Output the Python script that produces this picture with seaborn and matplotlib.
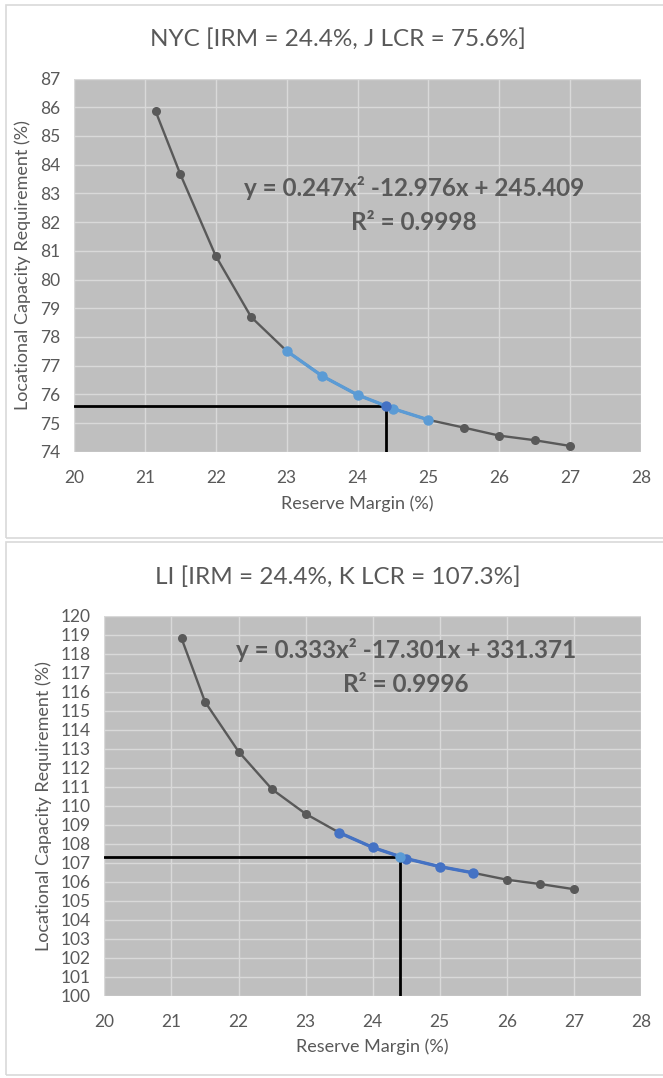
import numpy as np
import pandas as pd
import matplotlib
matplotlib.use("Agg")
import matplotlib.pyplot as plt
from matplotlib.patches import Rectangle
import seaborn as sns

# ---- data ----
nyc_x = [21.15, 21.5, 22, 22.5, 23, 23.5, 24, 24.5, 25, 25.5, 26, 26.5, 27]
nyc_y = [85.87, 83.67, 80.82, 78.69, 77.51, 76.64, 75.98, 75.50, 75.11, 74.84, 74.56, 74.40, 74.20]
nyc_fit_x = [23, 23.5, 24, 24.5, 25]
nyc_fit_y = [77.51, 76.64, 75.98, 75.50, 75.11]
nyc_irm, nyc_lcr = 24.4, 75.6

li_x = [21.15, 21.5, 22, 22.5, 23, 23.5, 24, 24.5, 25, 25.5, 26, 26.5, 27]
li_y = [118.82, 115.48, 112.86, 110.87, 109.58, 108.59, 107.81, 107.22, 106.80, 106.47, 106.11, 105.88, 105.61]
li_fit_x = [23.5, 24, 24.5, 25, 25.5]
li_fit_y = [108.59, 107.81, 107.22, 106.80, 106.47]
li_irm, li_lcr = 24.4, 107.3

sns.set_theme(style="white")
plt.rcParams["font.family"] = ["Lato", "DejaVu Sans"]

TXT = "#595959"
GRAY = "#595959"
LIGHTBLUE = "#5B9BD5"
DARKBLUE = "#4472C4"

W, H = 663, 1078
fig = plt.figure(figsize=(W / 100, H / 100), dpi=100)


def fx(px):
    return px / W


def fy(py):
    return 1 - py / H


# panel borders
for top, bot in [(5, 538), (542, 1075)]:
    fig.patches.append(Rectangle((fx(6), fy(bot)), fx(700), (bot - top) / H,
                                 transform=fig.transFigure, fill=False,
                                 edgecolor="#d9d9d9", linewidth=1.2))


def panel(rect, xs, ys, fx_, fy_, irm, lcr, ylim, line_col, pt_col,
          eq, r2, eq_pos, r2_pos):
    ax = fig.add_axes(rect)
    ax.set_facecolor("#bfbfbf")
    # guide lines to the IRM / LCR point
    ax.plot([20, irm], [lcr, lcr], color="black", lw=2.0, zorder=2)
    ax.plot([irm, irm], [ylim[0], lcr], color="black", lw=2.0, zorder=2)
    df = pd.DataFrame({"x": xs, "y": ys})
    sns.lineplot(data=df, x="x", y="y", ax=ax, color=GRAY, lw=1.7, marker="o",
                 markersize=6.5, markeredgewidth=0, estimator=None, sort=False, zorder=3)
    dfit = pd.DataFrame({"x": fx_, "y": fy_})
    sns.lineplot(data=dfit, x="x", y="y", ax=ax, color=line_col, lw=2.4, marker="o",
                 markersize=7.5, markeredgewidth=0, estimator=None, sort=False, zorder=4)
    ax.plot([irm], [lcr], marker="o", color=pt_col, markersize=7.5, markeredgewidth=0, zorder=5)

    ax.set_xlim(20, 28)
    ax.set_ylim(*ylim)
    ax.set_xticks(range(20, 29))
    ax.set_yticks(range(ylim[0], ylim[1] + 1))
    ax.grid(True, color="#d9d9d9", lw=1.0)
    ax.set_axisbelow(True)
    for s in ax.spines.values():
        s.set_visible(False)
    ax.tick_params(axis="both", length=0, labelsize=12.5, labelcolor=TXT)
    ax.tick_params(axis="x", pad=13)
    ax.tick_params(axis="y", pad=10)
    ax.set_xlabel("")
    ax.set_ylabel("")
    ax.text(eq_pos[0], eq_pos[1], eq, ha="center", va="center", fontsize=17.5,
            fontweight="bold", color=TXT, zorder=6)
    ax.text(r2_pos[0], r2_pos[1], r2, ha="center", va="center", fontsize=17.5,
            fontweight="bold", color=TXT, zorder=6)
    return ax


panel([fx(74), fy(451.7), (641 - 74) / W, (451.7 - 78.6) / H],
      nyc_x, nyc_y, nyc_fit_x, nyc_fit_y, nyc_irm, nyc_lcr, (74, 87),
      LIGHTBLUE, DARKBLUE,
      "y = 0.247x² -12.976x + 245.409", "R² = 0.9998", (24.8, 83.2), (24.8, 82.0))

panel([fx(104.4), fy(995.7), (641 - 104.4) / W, (995.7 - 616) / H],
      li_x, li_y, li_fit_x, li_fit_y, li_irm, li_lcr, (100, 120),
      DARKBLUE, LIGHTBLUE,
      "y = 0.333x² -17.301x + 331.371", "R² = 0.9996", (24.5, 118.2), (24.5, 116.4))

# titles and axis labels
fig.text(fx(338), fy(39), "NYC [IRM = 24.4%, J LCR = 75.6%]", ha="center", va="center",
         fontsize=17.5, color=TXT)
fig.text(fx(338), fy(577), "LI [IRM = 24.4%, K LCR = 107.3%]", ha="center", va="center",
         fontsize=17.5, color=TXT)
fig.text(fx(357), fy(504), "Reserve Margin (%)", ha="center", va="center", fontsize=13, color=TXT)
fig.text(fx(372), fy(1047), "Reserve Margin (%)", ha="center", va="center", fontsize=13, color=TXT)
fig.text(fx(23), fy(265), "Locational Capacity Requirement (%)", ha="center", va="center",
         rotation=90, fontsize=13, color=TXT)
fig.text(fx(44), fy(806), "Locational Capacity Requirement (%)", ha="center", va="center",
         rotation=90, fontsize=13, color=TXT)

fig.savefig("out.png", dpi=100)
